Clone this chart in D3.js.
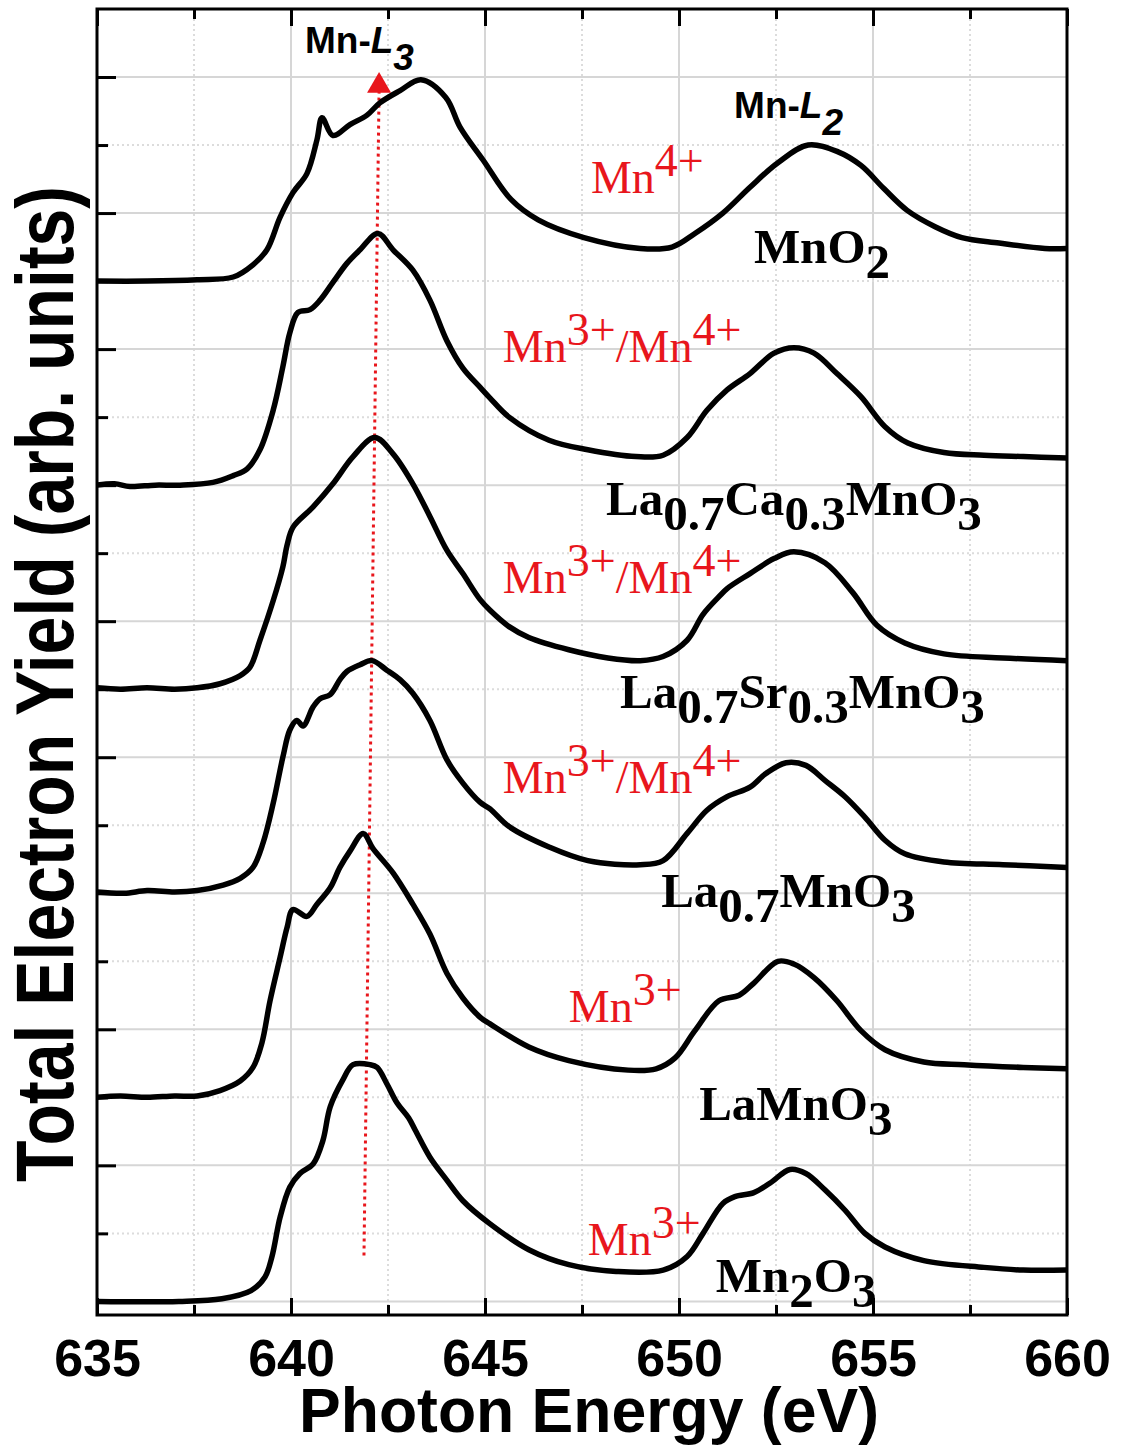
<!DOCTYPE html>
<html><head><meta charset="utf-8">
<script src="https://cdn.jsdelivr.net/npm/d3@7"></script>
<style>body{margin:0;background:#fff;} svg{display:block;}</style>
</head><body>
<svg id="chart" width="1123" height="1449"></svg>
<script>
// ---------- data ----------
const xTickValues = [635, 640, 645, 650, 655, 660];
const xMinorTickValues = [637.5, 642.5, 647.5, 652.5, 657.5];
const yMajorTickValues = [0, 1, 2, 3, 4, 5, 6, 7, 8, 9];
const yMinorTickValues = [0.5, 1.5, 2.5, 3.5, 4.5, 5.5, 6.5, 7.5, 8.5];

const sampleNames = ["MnO2", "La0.7Ca0.3MnO3", "La0.7Sr0.3MnO3", "La0.7MnO3", "LaMnO3", "Mn2O3"];
const sampleOffsets = [7.5, 6.0, 4.5, 3.0, 1.5, 0.0];

// [photon energy (eV), TEY intensity above pre-edge (arb. units)]
const spectrumMnO2 = [[635.00,0.00],[636.29,0.00],[637.58,0.01],[638.51,0.03],[639.02,0.12],[639.38,0.23],[639.72,0.47],[640.05,0.65],[640.41,0.79],[640.67,1.04],[640.80,1.20],[641.08,1.07],[641.52,1.15],[641.96,1.22],[642.29,1.31],[642.81,1.40],[643.35,1.48],[643.99,1.35],[644.36,1.13],[644.95,0.89],[645.67,0.60],[646.37,0.45],[647.55,0.32],[649.00,0.24],[649.82,0.25],[650.41,0.35],[651.13,0.50],[651.83,0.69],[652.55,0.87],[653.33,1.00],[654.10,0.95],[654.69,0.85],[655.28,0.68],[655.88,0.52],[656.60,0.40],[657.29,0.32],[658.25,0.28],[659.43,0.24],[660.00,0.24]];
const spectrumLCMO = [[635.00,0.00],[635.45,0.01],[635.85,-0.01],[636.50,0.00],[637.14,0.00],[637.99,0.02],[638.51,0.07],[638.87,0.12],[639.20,0.26],[639.54,0.55],[639.79,0.87],[639.97,1.12],[640.18,1.27],[640.49,1.29],[640.75,1.36],[641.08,1.49],[641.44,1.63],[641.78,1.73],[642.24,1.85],[642.63,1.73],[643.14,1.58],[643.58,1.36],[644.02,1.06],[644.43,0.86],[644.87,0.72],[645.13,0.64],[645.62,0.50],[646.65,0.33],[647.65,0.26],[648.89,0.21],[649.59,0.22],[650.21,0.35],[650.72,0.55],[651.24,0.70],[651.83,0.82],[652.45,0.97],[652.96,1.01],[653.48,0.97],[654.07,0.82],[654.69,0.65],[655.31,0.43],[655.90,0.31],[656.83,0.24],[657.86,0.22],[658.87,0.21],[660.00,0.20]];
const spectrumLSMO = [[635.00,0.01],[635.60,0.00],[636.29,0.01],[637.00,0.00],[637.58,0.01],[638.17,0.04],[638.69,0.10],[638.94,0.16],[639.20,0.36],[639.54,0.65],[639.79,0.90],[639.90,1.06],[640.05,1.19],[640.57,1.34],[641.08,1.51],[641.60,1.71],[642.16,1.85],[642.63,1.73],[643.14,1.51],[643.58,1.27],[644.02,1.02],[644.43,0.85],[644.87,0.66],[645.13,0.58],[645.62,0.46],[646.13,0.38],[647.16,0.29],[648.17,0.23],[649.00,0.21],[649.59,0.24],[650.21,0.36],[650.62,0.55],[651.03,0.68],[651.24,0.74],[651.83,0.85],[652.45,0.96],[652.96,1.01],[653.76,0.93],[654.48,0.71],[655.10,0.47],[655.82,0.34],[656.83,0.26],[658.35,0.23],[660.00,0.21]];
const spectrumLMO07 = [[635.00,0.01],[635.70,0.00],[636.29,0.02],[637.00,0.01],[637.58,0.02],[638.25,0.06],[638.69,0.11],[639.02,0.19],[639.28,0.37],[639.54,0.66],[639.79,1.00],[639.97,1.20],[640.15,1.27],[640.31,1.23],[640.57,1.37],[640.75,1.43],[641.01,1.46],[641.26,1.57],[641.44,1.63],[641.78,1.68],[642.09,1.71],[642.47,1.64],[642.81,1.57],[643.14,1.47],[643.58,1.27],[644.02,0.98],[644.43,0.81],[644.87,0.67],[645.13,0.62],[645.62,0.49],[646.65,0.34],[647.65,0.24],[649.00,0.21],[649.59,0.24],[650.21,0.44],[650.72,0.61],[651.24,0.71],[651.83,0.78],[652.24,0.88],[652.76,0.96],[653.27,0.94],[653.76,0.83],[654.28,0.71],[654.79,0.56],[655.31,0.39],[655.82,0.29],[656.83,0.23],[658.35,0.21],[660.00,0.19]];
const spectrumLaMnO3 = [[635.00,0.00],[635.60,0.01],[636.29,0.00],[637.00,0.01],[637.58,0.01],[638.17,0.05],[638.69,0.12],[639.02,0.22],[639.25,0.40],[639.46,0.71],[639.72,1.03],[639.90,1.25],[640.05,1.38],[640.41,1.33],[640.67,1.42],[641.01,1.54],[641.26,1.69],[641.52,1.81],[641.86,1.94],[642.11,1.83],[642.63,1.65],[643.14,1.42],[643.58,1.20],[644.02,0.91],[644.43,0.73],[644.87,0.59],[645.13,0.54],[646.13,0.37],[647.16,0.27],[648.69,0.20],[649.41,0.21],[649.90,0.29],[650.41,0.49],[651.03,0.71],[651.55,0.75],[651.93,0.84],[652.55,1.00],[652.96,0.98],[653.48,0.88],[654.07,0.71],[654.69,0.49],[655.31,0.35],[656.31,0.26],[657.35,0.24],[658.87,0.22],[660.00,0.21]];
const spectrumMn2O3 = [[635.00,0.00],[637.11,0.00],[638.22,0.02],[638.97,0.08],[639.33,0.18],[639.51,0.33],[639.72,0.62],[639.97,0.84],[640.23,0.94],[640.57,1.01],[640.82,1.18],[641.01,1.43],[641.34,1.63],[641.60,1.74],[642.04,1.74],[642.22,1.72],[642.47,1.60],[642.73,1.46],[643.03,1.35],[643.20,1.26],[643.58,1.06],[644.02,0.89],[644.43,0.74],[645.13,0.57],[646.13,0.38],[647.16,0.27],[648.38,0.22],[649.59,0.23],[650.21,0.33],[650.62,0.50],[651.13,0.72],[651.44,0.77],[651.93,0.80],[652.35,0.87],[652.86,0.97],[653.27,0.94],[653.76,0.82],[654.28,0.67],[654.79,0.50],[655.31,0.40],[656.31,0.30],[657.86,0.25],[658.87,0.23],[660.00,0.23]];
const spectra = [spectrumMnO2, spectrumLCMO, spectrumLSMO, spectrumLMO07, spectrumLaMnO3, spectrumMn2O3];

// Mn-L3 peak guide (energy, stacked value)
const peakGuide = [[642.27, 8.90], [641.88, 0.32]];
const peakMarker = [642.27, 8.935];

// annotations: segments [text, style] ; style: "" normal, "i" italic, "s" sub, "p" sup
const edgeLabels = [
  {seg: [["Mn-", ""], ["L", "i"], ["3", "is"]], e: 640.36, v: 9.177},
  {seg: [["Mn-", ""], ["L", "i"], ["2", "is"]], e: 651.42, v: 8.699}
];
const formulaLabels = [
  {seg: [["MnO", ""], ["2", "s"]], e: 651.93, v: 7.633},
  {seg: [["La", ""], ["0.7", "s"], ["Ca", ""], ["0.3", "s"], ["MnO", ""], ["3", "s"]], e: 648.12, v: 5.781},
  {seg: [["La", ""], ["0.7", "s"], ["Sr", ""], ["0.3", "s"], ["MnO", ""], ["3", "s"]], e: 648.48, v: 4.362},
  {seg: [["La", ""], ["0.7", "s"], ["MnO", ""], ["3", "s"]], e: 649.54, v: 2.899},
  {seg: [["LaMnO", ""], ["3", "s"]], e: 650.52, v: 1.334},
  {seg: [["Mn", ""], ["2", "s"], ["O", ""], ["3", "s"]], e: 650.95, v: 0.069}
];
const valenceLabels = [
  {seg: [["Mn", ""], ["4+", "p"]], e: 647.73, v: 8.148},
  {seg: [["Mn", ""], ["3+", "p"], ["/Mn", ""], ["4+", "p"]], e: 645.46, v: 6.906},
  {seg: [["Mn", ""], ["3+", "p"], ["/Mn", ""], ["4+", "p"]], e: 645.46, v: 5.206},
  {seg: [["Mn", ""], ["3+", "p"], ["/Mn", ""], ["4+", "p"]], e: 645.46, v: 3.737},
  {seg: [["Mn", ""], ["3+", "p"]], e: 647.16, v: 2.054},
  {seg: [["Mn", ""], ["3+", "p"]], e: 647.65, v: 0.341}
];

// ---------- chart ----------
const svg = d3.select("#chart");
const x = d3.scaleLinear().domain([635, 660]).range([97, 1067]);
const y = d3.scaleLinear().domain([-0.1, 9.5]).range([1315, 9]);
const SANS = "'Liberation Sans', Arial, Helvetica, sans-serif";
const SERIF = "'Liberation Serif', 'Times New Roman', Times, serif";
const RED = "#e8161c";

svg.append("rect").attr("width", 1123).attr("height", 1449).attr("fill", "#fff");

svg.append("clipPath").attr("id", "plotclip").append("rect")
  .attr("x", x(635)).attr("y", y(9.5)).attr("width", x(660) - x(635)).attr("height", y(-0.1) - y(9.5));

// grid
const grid = svg.append("g").attr("clip-path", "url(#plotclip)");
grid.selectAll(".vmaj").data(xTickValues.slice(1, -1)).join("line")
  .attr("x1", d => x(d)).attr("x2", d => x(d)).attr("y1", y(9.5)).attr("y2", y(-0.1))
  .attr("stroke", "#d6d6d6").attr("stroke-width", 2);
grid.selectAll(".vmin").data(xMinorTickValues).join("line")
  .attr("x1", d => x(d)).attr("x2", d => x(d)).attr("y1", y(9.5)).attr("y2", y(-0.1))
  .attr("stroke", "#dcdcdc").attr("stroke-width", 2).attr("stroke-dasharray", "2,3");
grid.selectAll(".hmaj").data(yMajorTickValues).join("line")
  .attr("y1", d => y(d)).attr("y2", d => y(d)).attr("x1", x(635)).attr("x2", x(660))
  .attr("stroke", "#d6d6d6").attr("stroke-width", 2);
grid.selectAll(".hmin").data(yMinorTickValues).join("line")
  .attr("y1", d => y(d)).attr("y2", d => y(d)).attr("x1", x(635)).attr("x2", x(660))
  .attr("stroke", "#dcdcdc").attr("stroke-width", 2).attr("stroke-dasharray", "2,3");

// red peak guide
const plot = svg.append("g").attr("clip-path", "url(#plotclip)");
plot.append("path").datum(peakGuide)
  .attr("d", d3.line().x(d => x(d[0])).y(d => y(d[1])))
  .attr("fill", "none").attr("stroke", RED).attr("stroke-width", 3).attr("stroke-dasharray", "3,4");

// spectra
const line = d3.line().curve(d3.curveCatmullRom.alpha(0.5));
plot.selectAll(".spec").data(spectra).join("path")
  .attr("class", "spec")
  .attr("d", (s, i) => line(s.map(p => [x(p[0]), y(p[1] + sampleOffsets[i])])))
  .attr("fill", "none").attr("stroke", "#000").attr("stroke-width", 5.5)
  .attr("stroke-linejoin", "round").attr("stroke-linecap", "round");

// triangle marker
svg.append("path")
  .attr("d", d3.symbol().type(d3.symbolTriangle).size(250)())
  .attr("transform", `translate(${x(peakMarker[0])},${y(peakMarker[1])})`)
  .attr("fill", RED);

// axes
function styleAxis(g) {
  g.select(".domain").remove();
  g.selectAll(".tick line").attr("stroke", "#000").attr("stroke-width", 3);
}
svg.append("g").attr("transform", `translate(0,${y(-0.1)})`)
  .call(d3.axisBottom(x).tickValues(xTickValues).tickSize(-17).tickPadding(24).tickFormat(d3.format("d")))
  .call(styleAxis)
  .call(g => g.selectAll("text").attr("font-family", SANS).attr("font-weight", "bold").attr("font-size", 52).attr("fill", "#000"));
svg.append("g").attr("transform", `translate(0,${y(-0.1)})`)
  .call(d3.axisBottom(x).tickValues(xMinorTickValues).tickSize(-10).tickFormat(""))
  .call(styleAxis);
svg.append("g").attr("transform", `translate(0,${y(9.5)})`)
  .call(d3.axisTop(x).tickValues(xTickValues).tickSize(-17).tickFormat(""))
  .call(styleAxis);
svg.append("g").attr("transform", `translate(0,${y(9.5)})`)
  .call(d3.axisTop(x).tickValues(xMinorTickValues).tickSize(-10).tickFormat(""))
  .call(styleAxis);
svg.append("g").attr("transform", `translate(${x(635)},0)`)
  .call(d3.axisLeft(y).tickValues(yMajorTickValues).tickSize(-19).tickFormat(""))
  .call(styleAxis);
svg.append("g").attr("transform", `translate(${x(635)},0)`)
  .call(d3.axisLeft(y).tickValues(yMinorTickValues).tickSize(-11).tickFormat(""))
  .call(styleAxis);

// frame
svg.append("rect")
  .attr("x", x(635)).attr("y", y(9.5)).attr("width", x(660) - x(635)).attr("height", y(-0.1) - y(9.5))
  .attr("fill", "none").attr("stroke", "#000").attr("stroke-width", 3);

// axis titles
svg.append("text").text("Photon Energy (eV)")
  .attr("x", 589).attr("y", 1432).attr("text-anchor", "middle")
  .attr("font-family", SANS).attr("font-weight", "bold").attr("font-size", 62.5).attr("fill", "#000");
svg.append("text").text("Total Electron Yield (arb. units)")
  .attr("transform", "translate(73,684) rotate(-90) scale(1,1.2)").attr("text-anchor", "middle")
  .attr("font-family", SANS).attr("font-weight", "bold").attr("font-size", 68).attr("fill", "#000");

// annotations
function drawLabel(lbl, opts) {
  const t = svg.append("text")
    .attr("x", x(lbl.e)).attr("y", y(lbl.v))
    .attr("font-family", opts.family).attr("font-weight", opts.weight)
    .attr("font-size", opts.size).attr("fill", opts.color);
  let cur = 0;
  lbl.seg.forEach(([txt, st]) => {
    const target = st.includes("s") ? opts.sub : st.includes("p") ? opts.sup : 0;
    const ts = t.append("tspan").text(txt).attr("dy", target - cur);
    if (st.includes("i")) ts.attr("font-style", "italic");
    cur = target;
  });
}
edgeLabels.forEach(l => drawLabel(l, {family: SANS, weight: "bold", size: 37, color: "#000", sub: 17, sup: 0}));
formulaLabels.forEach(l => drawLabel(l, {family: SERIF, weight: "bold", size: 49, color: "#000", sub: 15, sup: 0}));
valenceLabels.forEach(l => drawLabel(l, {family: SERIF, weight: "normal", size: 46, color: RED, sub: 0, sup: -17}));
</script>
</body></html>
